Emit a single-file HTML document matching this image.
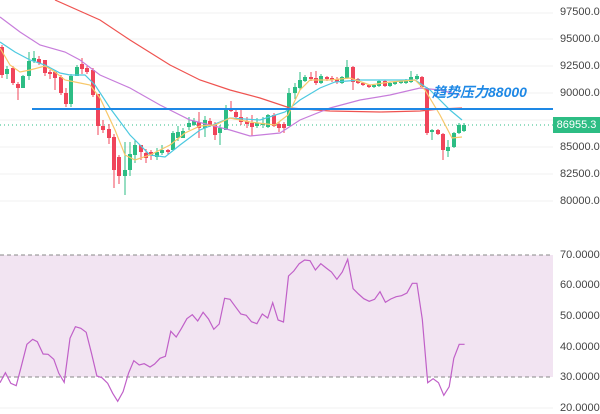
<!DOCTYPE html><html><head><meta charset="utf-8"><style>
body{margin:0;width:600px;height:414px;background:#fff;overflow:hidden;font-family:"Liberation Sans",sans-serif}
svg{position:absolute;left:0;top:0}
.l{position:absolute;left:560px;font-size:11px;color:#444}
</style></head><body>
<svg id="s" width="600" height="414"></svg>
<div class="l" style="top:6px">97500.0</div>
<div class="l" style="top:33px">95000.0</div>
<div class="l" style="top:60px">92500.0</div>
<div class="l" style="top:87px">90000.0</div>
<div class="l" style="top:141px">85000.0</div>
<div class="l" style="top:168px">82500.0</div>
<div class="l" style="top:195px">80000.0</div>
<div style="position:absolute;left:553px;top:117px;width:47px;height:16px;background:#2dbd84;color:#fff;font-size:11px;line-height:16px;text-align:center">86955.3</div>
<div style="position:absolute;left:432px;top:82px;font-size:14px;font-weight:bold;font-style:italic;color:#1e88e5;font-family:'Liberation Sans','Noto Sans CJK SC',sans-serif">趋势压力88000</div>
<div class="l" style="top:249px">70.0000</div>
<div class="l" style="top:279px">60.0000</div>
<div class="l" style="top:310px">50.0000</div>
<div class="l" style="top:341px">40.0000</div>
<div class="l" style="top:371px">30.0000</div>
<div class="l" style="top:402px">20.0000</div>
<script>
var s=document.getElementById('s'),h='';
[13,39,66,93,120,147,174,201,285,316,347,408].forEach(function(y){h+='<line x1="0" x2="553" y1="'+y+'" y2="'+y+'" stroke="#f0f0f0"/>'});
h+='<rect x="0" y="255" width="553" height="122" fill="#f2e4f2"/>';
h+='<line x1="0" x2="553" y1="255" y2="255" stroke="#888" stroke-dasharray="4,3"/><line x1="0" x2="553" y1="377" y2="377" stroke="#888" stroke-dasharray="4,3"/>';
h+='<line x1="0" x2="553" y1="125" y2="125" stroke="#2dbd84" stroke-dasharray="1,3"/>';
var C=[[0,47,75,45,78],[5,74,69,66,79],[11,68,83,66,85],[16,84,88,82,100],[21,88,76,75,88],[27,76,61,52,80],[32,61,58,51,63],[37,59,63,56,65],[43,60,73,60,76],[48,72,74,70,79],[53,72,78,70,90],[59,77,93,75,95],[64,93,104,88,107],[69,104,76,74,107],[75,76,67,65,70],[80,64,69,58,74],[85,68,72,66,74],[91,70,95,68,97],[96,94,126,94,135],[101,126,130,120,133],[107,129,138,124,144],[112,137,170,134,188],[117,157,176,155,184],[123,176,170,142,195],[128,170,154,142,176],[133,155,145,140,163],[139,145,152,145,160],[144,153,158,149,163],[149,152,155,150,160],[155,157,152,148,160],[160,153,150,145,155],[166,150,152,149,155],[171,150,133,131,150],[176,138,132,126,141],[181,138,131,128,138],[187,127,123,117,130],[192,125,121,118,126],[197,122,128,112,138],[203,128,120,116,137],[208,121,125,118,127],[213,125,135,122,140],[218,133,128,125,145],[224,130,110,105,130],[229,110,111,101,112],[234,112,117,110,118],[239,117,122,110,125],[245,121,124,117,128],[250,123,127,115,136],[255,126,123,118,128],[261,125,123,117,128],[266,127,115,114,128],[272,115,126,113,127],[277,124,128,122,132],[282,124,128,122,133],[287,126,93,88,126],[293,93,87,83,99],[298,88,80,72,90],[303,81,77,75,82],[309,77,79,72,81],[314,78,83,71,85],[319,83,76,74,84],[325,77,79,76,81],[330,78,80,76,82],[335,79,82,77,84],[340,83,77,76,84],[345,78,67,60,79],[351,67,82,66,90],[356,79,83,78,84],[361,83,85,82,86],[367,85,87,84,88],[372,87,85,84,88],[377,86,81,80,87],[383,81,86,80,87],[388,86,83,82,87],[393,84,82,81,85],[399,83,81,80,84],[404,83,80,79,84],[409,82,77,71,83],[415,79,76,74,80],[420,77,87,76,88],[425,88,133,87,135],[430,132,130,129,140],[436,130,134,129,135],[441,134,150,133,160],[446,151,147,140,157],[452,147,133,132,148],[457,133,125,123,134],[462,131,125,123,132]];
C.forEach(function(c){var up=c[2]<c[1],col=up?'#2dbd84':'#f0445a',t=Math.min(c[1],c[2]),b=Math.max(c[1],c[2]);
h+='<line x1="'+(c[0]+2)+'" x2="'+(c[0]+2)+'" y1="'+c[3]+'" y2="'+c[4]+'" stroke="'+col+'"/><rect x="'+c[0]+'" y="'+t+'" width="4" height="'+Math.max(1,b-t)+'" fill="'+col+'"/>'});
function pl(p,col){h+='<polyline fill="none" stroke="'+col+'" stroke-width="1.2" points="'+p+'"/>'}
pl('55,0 100,20 130,40 170,65 200,80 230,90 260,98 290,108 330,111 380,112 420,111 440,109 462,108','#ef5350');
pl('0,17 20,32 40,45 65,52 80,60 100,75 130,88 160,105 190,120 230,130 250,136 280,133 300,120 330,108 360,100 390,95 420,88 440,90 460,95','#c77ddb');
pl('0,42 15,52 30,60 45,65 60,73 70,75 85,75 95,85 110,108 130,135 150,155 165,157 180,145 200,130 230,118 260,120 285,112 300,100 320,88 335,82 360,80 400,80 415,80 430,90 450,110 462,120','#4cc9e0');
pl('0,48 10,65 20,72 30,70 45,66 55,72 65,80 80,83 90,85 100,98 115,130 125,155 135,160 150,155 170,145 185,133 200,126 215,125 230,118 250,122 275,125 288,115 300,90 310,80 330,80 350,78 370,85 390,82 415,80 425,90 440,115 452,138 462,137','#f7c86a');
h+='<line x1="32" x2="553" y1="109" y2="109" stroke="#1e88e5" stroke-width="2"/>';
var R=[[0,428],[14,398],[28,430],[42,437],[55,380],[70,313],[85,298],[97,305],[112,342],[125,343],[140,358],[153,400],[167,427],[182,295],[196,260],[210,265],[224,277],[238,340],[252,408],[265,413],[280,430],[293,460],[306,484],[320,455],[334,400],[348,362],[362,375],[375,371],[390,381],[402,372],[416,355],[430,349],[444,274],[458,291],[472,265],[486,236],[500,224],[514,243],[528,217],[542,237],[556,268],[570,252],[584,175],[598,178],[612,200],[626,222],[640,226],[654,245],[668,251],[682,222],[696,234],[709,188],[723,240],[737,246],[750,108],[764,93],[778,71],[792,60],[806,62],[820,90],[834,71],[848,84],[862,96],[876,118],[890,96],[904,58],[918,146],[932,162],[946,176],[960,184],[974,178],[988,155],[1002,187],[1016,177],[1030,170],[1044,167],[1058,159],[1072,130],[1084,130],[1098,238],[1112,428],[1126,416],[1140,428],[1154,466],[1168,440],[1180,355],[1194,313],[1208,313]];
pl(R.map(function(p){return (p[0]/2.6).toFixed(1)+','+(240+p[1]/3).toFixed(1)}).join(' '),'#c060c8');
s.innerHTML=h;
</script></body></html>
